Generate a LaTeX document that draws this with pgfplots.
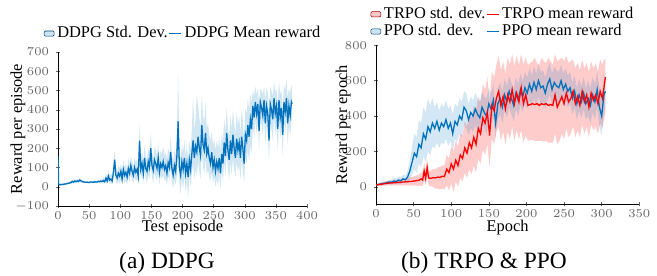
\documentclass[border=0pt]{standalone}
\usepackage{fontspec}
\setmainfont{Liberation Serif}
\usepackage{pgfplots}
\usepackage{pgfplotstable}
\pgfplotsset{compat=1.18}
\usepgfplotslibrary{fillbetween}
\definecolor{mblue}{rgb}{0,0.447,0.741}
\definecolor{tickgray}{gray}{0.4}

\pgfplotstableread{
x m lo hi
0 160 150 170
1 12 5 20
3 10 5 16
5 11 6 17
7 12 7 18
9 13 8 19
11 14 9 20
13 15 10 21
15 17 12 23
17 18 13 24
19 20 14 27
21 22 15 30
23 28 18 38
25 24 16 32
27 30 20 40
29 26 18 35
31 31 22 40
33 28 20 36
35 35 26 44
37 30 22 38
39 27 20 34
41 25 19 31
43 24 19 30
45 23 18 29
47 24 19 30
49 22 17 28
51 23 18 29
53 25 20 31
55 24 19 30
57 23 18 29
59 26 20 32
61 24 18 30
63 25 19 32
65 28 22 35
67 26 20 33
69 30 22 40
71 27 20 36
73 32 22 45
75 26 18 40
77 45 25 70
79 30 15 55
81 55 30 85
83 35 15 60
85 40 20 70
87 30 10 55
89 75 40 110
91 140 90 190
93 60 20 100
95 45 15 80
97 70 30 110
99 55 15 95
101 80 40 120
103 40 10 80
105 90 45 140
107 60 20 100
109 75 30 120
111 50 15 90
113 95 50 150
115 70 25 115
117 110 60 160
119 80 35 130
121 60 20 110
123 100 50 150
125 75 30 130
127 90 40 140
129 55 15 100
131 240 150 330
133 90 40 150
135 120 60 180
137 70 20 130
139 150 80 220
141 95 40 160
143 80 20 140
145 130 60 200
147 100 40 170
149 200 120 280
151 110 50 180
153 85 20 150
155 140 70 210
157 120 55 190
159 95 30 160
161 150 80 230
163 75 10 140
165 120 60 190
167 100 40 170
169 130 60 210
171 90 30 160
173 110 40 180
175 70 10 140
177 125 60 200
179 100 30 170
181 180 100 260
183 95 30 170
185 60 -10 130
187 110 40 190
189 80 10 160
191 160 60 260
193 340 200 600
195 100 20 190
197 60 -40 140
199 130 40 220
201 90 -10 180
203 150 60 250
205 70 -30 160
207 120 30 220
209 50 -60 140
211 140 50 240
213 90 0 190
215 170 70 300
217 240 120 470
219 150 40 290
221 210 90 360
223 180 60 480
225 260 130 420
227 200 80 360
229 160 40 310
231 320 190 480
233 220 100 370
235 190 70 340
237 280 150 440
239 170 60 310
241 200 90 330
243 150 50 270
245 120 30 240
247 180 80 290
249 100 20 210
251 140 50 250
253 80 0 190
255 130 40 240
257 95 10 200
259 150 60 260
261 70 -10 180
263 170 80 280
265 120 30 230
267 230 130 350
269 160 60 290
271 280 170 410
273 190 90 310
275 140 40 260
277 240 130 370
279 170 60 300
281 270 150 400
283 200 90 330
285 150 50 270
287 250 130 390
289 190 80 320
291 230 110 370
293 150 40 280
295 260 140 400
297 200 80 340
299 120 20 250
301 270 150 410
303 240 120 380
305 320 190 460
307 260 130 400
309 350 220 480
311 300 170 440
313 420 320 500
315 360 250 470
317 440 350 520
319 380 280 480
321 430 340 510
323 290 180 420
325 440 350 510
327 410 320 500
329 370 260 480
331 450 360 520
333 330 220 450
335 420 320 510
337 380 270 490
339 240 130 380
341 430 330 520
343 400 300 500
345 350 240 470
347 460 360 550
349 380 270 490
351 420 320 510
353 300 190 430
355 450 340 550
357 360 250 480
359 410 310 500
361 270 160 400
363 440 340 530
365 390 280 500
367 460 360 560
369 330 220 460
371 420 320 510
373 370 260 490
375 440 340 530
376 430 360 500
}\ddpg

\pgfplotstableread{
x m lo hi
0 10 5 15
3 13 7 19
6 16 9 23
9 19 11 27
12 21 12 30
15 24 13 35
18 27 15 40
21 26 12 42
24 33 18 50
27 30 14 48
30 38 20 58
33 34 16 55
36 45 25 68
39 40 20 65
42 55 25 90
45 90 40 150
48 140 70 230
51 190 100 300
54 170 80 280
57 240 130 380
60 220 110 360
63 300 170 450
66 270 140 420
69 340 200 500
72 310 180 460
75 360 230 500
78 330 220 450
81 370 250 480
84 320 220 430
87 360 250 470
90 340 240 450
93 380 270 490
96 330 230 440
99 360 260 460
102 300 200 410
105 370 270 470
108 350 250 450
111 400 300 500
114 380 280 480
117 450 350 540
120 430 330 530
123 380 290 470
126 420 330 510
129 400 310 490
132 440 350 530
135 410 320 500
138 390 300 480
141 450 360 540
144 420 330 510
147 400 300 500
150 470 380 560
153 440 350 530
156 490 400 580
159 360 270 450
162 470 380 560
165 500 410 590
168 450 360 540
171 520 430 610
174 480 390 570
177 540 450 630
180 500 410 590
183 460 370 550
186 530 440 620
189 490 400 580
192 550 460 640
195 510 420 600
198 560 470 650
201 530 440 620
204 580 490 670
207 540 450 630
210 590 500 680
213 550 460 640
216 600 510 690
219 560 470 650
222 570 480 660
225 530 440 620
228 580 490 670
231 610 520 700
234 550 460 640
237 590 500 680
240 570 480 660
243 560 470 650
246 600 510 690
249 550 460 640
252 580 490 670
255 540 450 630
258 560 470 650
261 500 410 590
264 540 450 630
267 470 380 560
270 520 430 610
273 480 390 570
276 530 440 620
279 470 380 560
282 500 400 600
285 460 360 560
288 520 420 620
291 480 380 580
294 550 450 650
297 450 340 560
300 400 290 510
303 520 420 620
305 540 440 640
}\ppo

\pgfplotstableread{
x m lo hi
0 10 2 18
3 12 4 20
6 14 5 23
9 16 6 26
12 18 7 29
15 20 8 32
18 21 8 34
21 22 8 36
24 23 8 38
27 24 8 40
30 25 8 42
33 26 8 44
36 27 8 46
39 28 8 48
42 29 8 50
45 30 7 53
48 31 6 56
51 33 6 60
54 35 6 64
57 37 5 68
60 45 8 80
62 38 3 72
64 90 40 140
66 48 8 86
68 110 60 160
70 50 8 90
73 48 3 92
76 52 0 100
79 50 -10 100
82 55 -10 110
85 53 -15 112
88 60 -10 120
91 58 -15 122
94 100 10 180
97 80 -20 160
100 130 20 230
103 100 -30 200
106 150 30 260
109 120 0 230
112 180 50 300
115 160 30 290
118 220 80 370
121 190 50 340
124 250 100 410
127 220 70 390
130 280 120 460
133 240 80 430
136 330 160 510
139 300 130 480
142 390 210 580
145 360 180 550
148 420 240 620
151 290 110 480
154 460 270 650
157 430 240 620
160 500 310 690
163 540 340 740
166 460 260 660
169 510 310 710
172 440 240 640
175 520 310 730
178 480 270 690
181 550 340 750
184 470 260 680
187 530 320 740
190 480 270 690
193 560 320 750
196 470 250 690
199 520 290 730
202 460 260 690
205 465 265 700
208 470 265 710
211 465 260 730
214 470 260 700
217 460 260 690
220 470 260 730
223 465 255 710
226 470 260 700
229 460 250 730
232 465 250 710
235 460 250 690
238 520 300 750
241 450 240 710
244 480 260 720
247 510 300 730
250 470 270 710
253 530 330 740
256 480 280 700
259 500 300 710
262 540 340 720
265 470 280 670
268 510 320 700
271 460 280 660
274 540 350 720
277 480 300 670
280 520 340 700
283 450 280 650
286 530 350 710
289 490 320 670
292 520 340 700
295 470 300 650
298 540 360 720
301 500 330 690
303 560 380 720
305 620 420 720
}\trpo

\pgfplotsset{
  mystyle/.style={
    scale only axis,
    axis lines=left,
    axis line style={-, black},
    tick style={tickgray},
    tick label style={font=\fontsize{5.8}{6}\selectfont, text=tickgray},
    xticklabel style={yshift=1.8pt},
    label style={font=\fontsize{8.2}{9}\selectfont},
    major tick length=2pt,
    legend style={draw=none, fill=none, font=\fontsize{8.2}{9}\selectfont,
      inner sep=0pt, legend cell align=left, row sep=0pt,
      nodes={inner sep=0.4pt, text height=6pt, text depth=1.8pt}},
    legend columns=2,
  },
}

\begin{document}
\begin{tikzpicture}

% ---- (a) DDPG ----
\begin{axis}[mystyle,
  at={(29pt,-103pt)}, anchor=south west,
  width=124.5pt, height=77pt,
  xmin=0, xmax=400, ymin=-100, ymax=700,
  xtick={0,50,...,400}, ytick={-100,0,...,700},
  xlabel={Test episode}, ylabel={Reward per episode},
  xlabel style={at={(axis description cs:0.5,0)}, anchor=center, yshift=-11pt},
  ylabel style={at={(axis description cs:-0.161,0.5)}, anchor=center},
  legend style={at={(axis description cs:0.5,1)}, anchor=south, yshift=4.7pt,
    /tikz/every odd column/.append style={column sep=1pt}},
]
\addlegendimage{legend image code/.code={\draw[fill=mblue!20, draw=mblue!60!black, line width=0.3pt, rounded corners=0.6pt] (0pt,-1.3pt) rectangle (5pt,1.3pt);}}
\addlegendentry{DDPG Std. Dev.}
\addlegendimage{legend image code/.code={\draw[mblue, line width=0.6pt] (0pt,0pt) -- (6pt,0pt);}}
\addlegendentry{DDPG Mean reward}
\addplot[name path=dh, draw=none, forget plot] table[x=x,y=hi]{\ddpg};
\addplot[name path=dl, draw=none, forget plot] table[x=x,y=lo]{\ddpg};
\addplot[fill=mblue, fill opacity=0.18, draw=none, forget plot] fill between[of=dh and dl];
\addplot[mblue, line width=0.65pt, forget plot] table[x=x,y=m]{\ddpg};
\end{axis}

% ---- (b) TRPO & PPO ----
\begin{axis}[mystyle,
  at={(188pt,-102.25pt)}, anchor=south west,
  width=131.65pt, height=79.6pt,
  xmin=0, xmax=350, ymin=-100, ymax=800,
  xtick={0,50,...,350}, ytick={0,200,...,800},
  xlabel={Epoch}, ylabel={Reward per epoch},
  xlabel style={at={(axis description cs:0.5,0)}, anchor=center, yshift=-11.75pt},
  ylabel style={at={(axis description cs:-0.125,0.5)}, anchor=center},
  legend style={at={(axis description cs:0.48,1)}, anchor=south, yshift=2.4pt,
    /tikz/every odd column/.append style={column sep=1pt}},
]
\addlegendimage{legend image code/.code={\draw[fill=red!22, draw=red!60!black, line width=0.3pt, rounded corners=0.6pt] (0pt,-1.3pt) rectangle (5pt,1.3pt);}}
\addlegendentry{TRPO std. dev.}
\addlegendimage{legend image code/.code={\draw[red, line width=0.6pt] (0pt,0pt) -- (6pt,0pt);}}
\addlegendentry{TRPO mean reward}
\addlegendimage{legend image code/.code={\draw[fill=mblue!20, draw=mblue!60!black, line width=0.3pt, rounded corners=0.6pt] (0pt,-1.3pt) rectangle (5pt,1.3pt);}}
\addlegendentry{PPO std. dev.}
\addlegendimage{legend image code/.code={\draw[mblue, line width=0.6pt] (0pt,0pt) -- (6pt,0pt);}}
\addlegendentry{PPO mean reward}
\addplot[name path=th, draw=none, forget plot] table[x=x,y=hi]{\trpo};
\addplot[name path=tl, draw=none, forget plot] table[x=x,y=lo]{\trpo};
\addplot[fill=red, fill opacity=0.2, draw=none, forget plot] fill between[of=th and tl];
\addplot[name path=ph, draw=none, forget plot] table[x=x,y=hi]{\ppo};
\addplot[name path=pl, draw=none, forget plot] table[x=x,y=lo]{\ppo};
\addplot[fill=mblue, fill opacity=0.17, draw=none, forget plot] fill between[of=ph and pl];
\addplot[mblue, line width=0.65pt, forget plot] table[x=x,y=m]{\ppo};
\addplot[red, line width=0.65pt, forget plot] table[x=x,y=m]{\trpo};
\end{axis}

\node[font=\fontsize{11.7}{14}\selectfont] at (83.5pt,-131.5pt) {(a) DDPG};
\node[font=\fontsize{11.7}{14}\selectfont] at (242pt,-131.5pt) {(b) TRPO \& PPO};
\pgfresetboundingbox
\useasboundingbox (0pt,0pt) rectangle (328.5pt,-138pt);
\end{tikzpicture}
\end{document}
